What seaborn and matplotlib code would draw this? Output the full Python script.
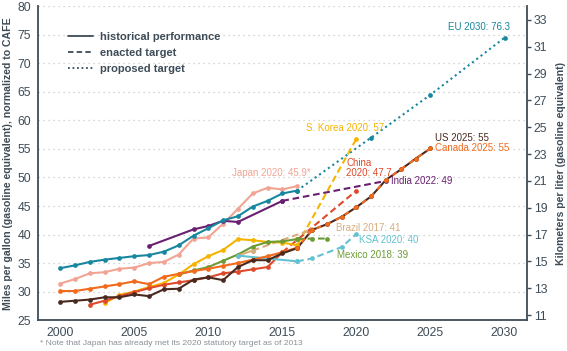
import numpy as np
import pandas as pd
import matplotlib
matplotlib.use('Agg')
import matplotlib.pyplot as plt
from matplotlib.lines import Line2D
import seaborn as sns

# ---- data (mpg, normalized to CAFE) ----
eu_years = list(range(2000, 2017))
eu_mpg = [34.1, 34.6, 35.2, 35.6, 35.9, 36.2, 36.4, 37.0, 38.1, 39.8, 41.1, 42.5, 43.2, 44.9, 45.9, 47.2, 47.7]
eu_prop_years = [2016, 2021, 2025, 2030]
eu_prop_mpg = [47.7, 57.0, 64.5, 74.5]

japan_years = list(range(2000, 2017))
japan_mpg = [31.4, 32.2, 33.2, 33.4, 34.0, 34.2, 35.0, 35.2, 36.5, 39.3, 39.5, 41.9, 44.5, 47.2, 48.2, 47.9, 48.5]

us_years = list(range(2000, 2017))
us_mpg = [28.2, 28.4, 28.6, 29.0, 29.0, 29.5, 29.2, 30.4, 30.5, 32.1, 32.5, 32.0, 34.3, 35.5, 35.5, 36.7, 37.6]
us_tgt_years = list(range(2016, 2026))
us_tgt_mpg = [37.6, 40.8, 41.8, 43.1, 44.8, 46.7, 49.6, 51.4, 53.3, 55.1]

canada_years = list(range(2000, 2017))
canada_mpg = [30.1, 30.1, 30.5, 30.9, 31.3, 31.8, 31.3, 32.6, 33.1, 33.6, 34.0, 34.5, 35.0, 35.6, 36.2, 36.9, 37.7]
canada_tgt_years = list(range(2016, 2026))
canada_tgt_mpg = [37.7, 40.8, 41.8, 43.1, 44.8, 46.7, 49.6, 51.4, 53.3, 55.1]

china_years = list(range(2002, 2016))
china_mpg = [27.7, 28.4, 29.2, 29.9, 30.6, 31.2, 31.6, 32.0, 32.5, 33.2, 33.5, 33.9, 34.3, 36.9]
china_tgt_years = [2015, 2020]
china_tgt_mpg = [36.9, 47.7]

korea_years = list(range(2003, 2017))
korea_mpg = [28.0, 29.4, 30.0, 30.8, 31.5, 33.0, 34.8, 36.2, 37.3, 39.2, 39.0, 38.7, 38.6, 38.1]
korea_tgt_years = [2016, 2020]
korea_tgt_mpg = [38.1, 56.8]

india_years = [2006, 2009, 2010, 2011, 2012, 2015]
india_mpg = [38.0, 40.9, 41.5, 42.4, 42.2, 45.9]
india_tgt_years = [2015, 2022]
india_tgt_mpg = [45.9, 49.4]

brazil_years = [2012, 2013]
brazil_mpg = [36.3, 37.2]
brazil_tgt_years = [2013, 2017]
brazil_tgt_mpg = [37.2, 40.9]

ksa_years = [2012, 2016]
ksa_mpg = [36.3, 35.3]
ksa_tgt_years = [2016, 2017, 2019, 2020]
ksa_tgt_mpg = [35.3, 35.8, 37.8, 40.1]

mexico_years = list(range(2008, 2017))
mexico_mpg = [33.0, 33.7, 34.3, 35.4, 36.5, 37.9, 38.7, 38.8, 39.2]
mexico_tgt_years = [2016, 2017, 2018]
mexico_tgt_mpg = [39.2, 39.3, 39.3]

# ---- colours ----
C_EU = '#17879f'
C_JP = '#f2a494'
C_US = '#4a2a20'
C_CA = '#f26a1c'
C_CN = '#dd4a2b'
C_KR = '#f6b400'
C_IN = '#6a2070'
C_BR = '#d8ad7e'
C_SA = '#63c2d2'
C_MX = '#6c9b36'
SLATE = '#3e4c57'

sns.set_style('white')
plt.rcParams['font.family'] = ['Liberation Sans', 'DejaVu Sans']

fig = plt.figure(figsize=(5.67, 3.51), dpi=100)
ax = fig.add_axes([0.067, 0.088, 0.862, 0.894])

DASH = (0, (3.2, 1.8))
DOT = (0, (1, 1.6))
MS = 3.4
LW = 1.5


def draw(x, y, color, ls='-', z=2):
    sns.lineplot(x=x, y=y, ax=ax, color=color, linestyle=ls, linewidth=LW,
                 marker='o', markersize=MS, markeredgewidth=0, zorder=z,
                 estimator=None, sort=False)


# targets first, history on top
draw(eu_prop_years, eu_prop_mpg, C_EU, DOT)
draw(korea_tgt_years, korea_tgt_mpg, C_KR, DASH)
draw(china_tgt_years, china_tgt_mpg, C_CN, DASH)
draw(india_tgt_years, india_tgt_mpg, C_IN, DASH)
draw(brazil_tgt_years, brazil_tgt_mpg, C_BR, DASH)
draw(ksa_tgt_years, ksa_tgt_mpg, C_SA, DASH)
draw(mexico_tgt_years, mexico_tgt_mpg, C_MX, DASH)
draw(us_tgt_years, us_tgt_mpg, C_US, '-')
draw(canada_tgt_years, canada_tgt_mpg, C_CA, (1.6, (2.4, 2.6)), z=3)

draw(korea_years, korea_mpg, C_KR)
draw(china_years, china_mpg, C_CN)
draw(mexico_years, mexico_mpg, C_MX)
draw(brazil_years, brazil_mpg, C_BR)
draw(ksa_years, ksa_mpg, C_SA)
draw(canada_years, canada_mpg, C_CA)
draw(us_years, us_mpg, C_US)
draw(japan_years, japan_mpg, C_JP)
draw(india_years, india_mpg, C_IN)
draw(eu_years, eu_mpg, C_EU)

ax.set_xlim(1998.5, 2031.5)
ax.set_ylim(25, 80)
ax.set_xticks([2000, 2005, 2010, 2015, 2020, 2025, 2030])
ax.set_yticks(range(25, 81, 5))
ax.yaxis.grid(True, color='#c9c9c9', linestyle=(0, (1, 3)), linewidth=0.9)
ax.xaxis.grid(False)
ax.set_axisbelow(True)
for s in ['top', 'right']:
    ax.spines[s].set_visible(False)
for s in ['left', 'bottom']:
    ax.spines[s].set_color(SLATE)
    ax.spines[s].set_linewidth(1.3)
ax.tick_params(axis='both', colors=SLATE, labelcolor=SLATE, labelsize=8.8,
               length=3, width=1, direction='out', pad=2)
ax.set_xlabel('')
ax.set_ylabel('Miles per gallon (gasoline equivalent), normalized to CAFE',
              fontsize=7.6, fontweight='bold', color=SLATE, labelpad=3)

k = 0.425144
sec = ax.secondary_yaxis('right', functions=(lambda v: v * k, lambda v: v / k))
sec.set_yticks(range(11, 34, 2))
sec.spines['right'].set_color(SLATE)
sec.spines['right'].set_linewidth(1.3)
sec.tick_params(colors=SLATE, labelcolor=SLATE, labelsize=8.8, length=3, width=1, pad=2)
sec.set_ylabel('Kilometers per liter (gasoline equivalent)', fontsize=7.6,
               fontweight='bold', color=SLATE, labelpad=6)

# legend
handles = [Line2D([], [], color=SLATE, lw=1.3, ls='-'),
           Line2D([], [], color=SLATE, lw=1.3, ls=(0, (3, 1.8))),
           Line2D([], [], color=SLATE, lw=1.3, ls=(0, (1, 1.5)))]
leg = ax.legend(handles, ['historical performance', 'enacted target', 'proposed target'],
                loc='upper left', bbox_to_anchor=(0.04, 0.95), frameon=False,
                handlelength=2.3, handletextpad=0.6, labelspacing=0.55,
                prop={'size': 8, 'weight': 'bold'})
for t in leg.get_texts():
    t.set_color(SLATE)

# labels
fs = 7
ax.text(2030.4, 76.4, 'EU 2030: 76.3', color=C_EU, fontsize=fs, ha='right', va='center')
ax.text(2016.6, 58.7, 'S. Korea 2020: 57', color=C_KR, fontsize=fs, va='center')
ax.text(2011.6, 50.7, 'Japan 2020: 45.9*', color=C_JP, fontsize=fs, va='center')
ax.text(2019.3, 51.6, 'China\n2020: 47.7', color=C_CN, fontsize=fs, va='center', linespacing=1.0)
ax.text(2025.3, 57.0, 'US 2025: 55', color=C_US, fontsize=fs, va='center')
ax.text(2025.3, 55.2, 'Canada 2025: 55', color=C_CA, fontsize=fs, va='center')
ax.text(2022.35, 49.4, 'India 2022: 49', color=C_IN, fontsize=fs, va='center')
ax.text(2018.6, 41.2, 'Brazil 2017: 41', color=C_BR, fontsize=fs, va='center')
ax.text(2020.2, 39.1, 'KSA 2020: 40', color=C_SA, fontsize=fs, va='center')
ax.text(2018.7, 36.4, 'Mexico 2018: 39', color=C_MX, fontsize=fs, va='center')

fig.text(0.07, 0.022, '* Note that Japan has already met its 2020 statutory target as of 2013',
         fontsize=6.1, color='#8a8f94', va='center')

fig.savefig('out.png', dpi=100)
